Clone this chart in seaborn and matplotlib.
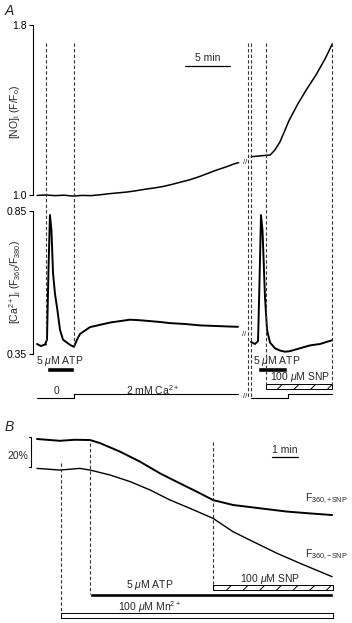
import matplotlib
matplotlib.use("Agg")
import matplotlib.pyplot as plt
import seaborn as sns
import pandas as pd

# ---------------- data ----------------
# Panel A, [NO]i (F/F0) vs time (min); two recording segments separated by a break
no_t_left = [0.0, 1.0, 2.0, 3.0, 4.0, 5.0, 6.0, 7.0, 8.0, 9.0, 10.0, 11.0, 12.0,
             13.0, 14.0, 15.0, 16.0, 17.0, 18.0, 19.0, 20.0, 21.0, 22.0, 22.4]
no_v_left = [0.998, 1.000, 0.997, 0.999, 0.995, 0.998, 0.997, 1.001, 1.006, 1.010,
             1.014, 1.020, 1.027, 1.033, 1.040, 1.050, 1.061, 1.072, 1.086, 1.102,
             1.118, 1.132, 1.148, 1.152]
no_t_right = [23.8, 25.0, 25.9, 26.4, 27.0, 28.0, 29.0, 30.0, 31.0, 32.0, 32.8]
no_v_right = [1.180, 1.185, 1.188, 1.210, 1.250, 1.350, 1.430, 1.500, 1.565, 1.640, 1.710]

# Panel A, [Ca2+]i (F360/F380) vs time (min)
ca_t_left = [0.0, 0.44, 0.89, 1.11, 1.28, 1.44, 1.61, 1.78, 2.0, 2.22, 2.56, 2.89,
             3.33, 3.67, 4.11, 4.44, 4.78, 5.33, 5.89, 7.0, 8.11, 9.22, 10.33,
             11.44, 12.56, 13.67, 14.78, 16.44, 18.11, 19.78, 21.44, 22.33]
ca_v_left = [0.385, 0.378, 0.383, 0.400, 0.650, 0.836, 0.780, 0.633, 0.560, 0.514,
             0.434, 0.400, 0.390, 0.382, 0.375, 0.400, 0.420, 0.432, 0.444, 0.452,
             0.460, 0.465, 0.470, 0.468, 0.465, 0.462, 0.458, 0.455, 0.450, 0.448,
             0.446, 0.445]
ca_t_right = [23.78, 24.22, 24.56, 24.72, 24.89, 25.06, 25.33, 25.56, 25.89, 26.44,
              27.0, 27.56, 28.11, 29.22, 30.33, 31.44, 32.78]
ca_v_right = [0.392, 0.385, 0.395, 0.600, 0.836, 0.780, 0.550, 0.434, 0.390, 0.370,
              0.362, 0.358, 0.360, 0.370, 0.380, 0.385, 0.398]

# Panel A protocol (min)
a_dashed = [1.0, 4.1, 23.45, 23.8, 25.45, 32.8]
a_atp = [(1.1, 4.1), (24.6, 27.8)]
a_snp = (25.45, 32.8)
a_sol_left_t = [0.0, 4.1, 22.3]
a_sol_right_t = [23.8, 27.9, 32.8]
a_sol_level = [0, 2, 2]          # mM Ca2+

# Panel B, F360 (%) vs time (min)
b_t_plus = [0.0, 0.885, 1.46, 2.04, 2.42, 3.19, 3.96, 4.73, 5.5, 6.27, 6.77, 7.54,
            8.58, 9.62, 10.5, 11.35]
b_v_plus = [100.0, 98.8, 99.5, 99.3, 97.3, 91.6, 84.9, 77.1, 70.4, 63.8, 59.3, 56.0,
            53.8, 51.6, 50.4, 49.3]
b_t_minus = [0.0, 0.885, 1.65, 2.04, 2.81, 3.58, 4.35, 5.12, 5.88, 6.77, 7.54, 8.31,
             9.23, 10.12, 10.88, 11.35]
b_v_minus = [80.4, 79.3, 80.4, 79.3, 76.0, 71.6, 66.0, 59.3, 53.8, 47.1, 38.2, 31.6,
             23.8, 17.1, 11.6, 8.2]
b_mn = (0.92, 11.38)
b_atp = (2.04, 11.38)
b_snp = (6.77, 11.38)
b_dashed = [0.92, 2.04, 6.77]

# ---------------- style ----------------
sns.set_theme(style="white")
plt.rcParams["font.family"] = ["Liberation Sans", "DejaVu Sans"]
plt.rcParams["mathtext.fontset"] = "custom"
plt.rcParams["mathtext.rm"] = "Liberation Sans"
plt.rcParams["mathtext.it"] = "Liberation Sans:italic"
plt.rcParams["mathtext.bf"] = "Liberation Sans:bold"
plt.rcParams["hatch.linewidth"] = 0.7

W, H = 352, 623
fig = plt.figure(figsize=(W / 100, H / 100), dpi=100)

def tA(px):
    return (px - 37) / 9.0

def tB(px):
    return (px - 37) / 26.0

def rect(l, t, r, b):
    return [l / W, 1 - b / H, (r - l) / W, (b - t) / H]

FS = 7.5
LC = "black"
DASH = dict(color="0.2", lw=0.8, linestyle=(0, (3, 2)))

def trace(ax, t, v, lw=1.0):
    df = pd.DataFrame({"t": t, "v": v})
    sns.lineplot(data=df, x="t", y="v", ax=ax, color=LC, lw=lw,
                 estimator=None, sort=False, clip_on=False)
    ax.set_xlabel("")
    ax.set_ylabel("")

# ---- Panel A: NO axis ----
ax_no = fig.add_axes(rect(33, 25, 352, 195))
trace(ax_no, no_t_left, no_v_left, lw=1.1)
trace(ax_no, no_t_right, no_v_right, lw=1.1)
ax_no.set_xlim(tA(33), tA(352))
ax_no.set_ylim(1.0, 1.8)

# ---- Panel A: Ca axis ----
ax_ca = fig.add_axes(rect(33, 211, 352, 354))
trace(ax_ca, ca_t_left, ca_v_left, lw=1.4)
trace(ax_ca, ca_t_right, ca_v_right, lw=1.4)
ax_ca.set_xlim(tA(33), tA(352))
ax_ca.set_ylim(0.35, 0.85)

for ax, ticks, labels in [(ax_no, [1.0, 1.8], ["1.0", "1.8"]),
                          (ax_ca, [0.35, 0.85], ["0.35", "0.85"])]:
    ax.patch.set_alpha(0)
    for s in ["top", "right", "bottom"]:
        ax.spines[s].set_visible(False)
    ax.spines["left"].set_color("black")
    ax.spines["left"].set_linewidth(0.8)
    ax.set_xticks([])
    ax.set_yticks(ticks)
    ax.set_yticklabels(labels, fontsize=FS)
    ax.tick_params(axis="y", direction="out", length=3, width=0.8, pad=1.5,
                   left=True, colors="black")

# ---- Panel B traces ----
ax_b = fig.add_axes(rect(0, 430, 352, 590))
trace(ax_b, b_t_plus, b_v_plus, lw=1.4)
trace(ax_b, b_t_minus, b_v_minus, lw=1.0)
ax_b.set_xlim(tB(0), tB(352))
ax_b.set_ylim(100 - (590 - 439) / 1.5, 100 - (430 - 439) / 1.5)
ax_b.axis("off")
# 20% scale bracket
ax_b.plot([tB(28.5), tB(31), tB(31), tB(28.5)], [101.3, 101.3, 81.3, 81.3],
          color="black", lw=0.8)

# ---- overlay for panel A annotations (y in pixel rows) ----
ovA = fig.add_axes([0, 0, 1, 1])
ovA.set_xlim(tA(0), tA(W))
ovA.set_ylim(H, 0)
ovA.axis("off")
ovA.patch.set_alpha(0)

a_dash_bottom = [345, 346, 398, 398, 385, 385]
for x, yb in zip(a_dashed, a_dash_bottom):
    ovA.plot([x, x], [43, yb], **DASH)

ovA.text(tA(5), 11, "A", fontsize=10, style="italic", ha="left", va="center")
ovA.text(tA(15), 112, r"[NO]$_{\rm i}$ (F/F$_{\rm o}$)", fontsize=FS,
         rotation=90, ha="center", va="center")
ovA.text(tA(15), 282, r"[Ca$^{2+}$]$_{\rm i}$ (F$_{360}$/F$_{380}$)", fontsize=FS,
         rotation=90, ha="center", va="center")

# 5 min scale bar
ovA.plot([tA(185), tA(185) + 5], [66, 66], color="black", lw=0.9)
ovA.text(tA(185) + 2.5, 63, "5 min", fontsize=FS, ha="center", va="bottom")

# break marks
for (xp, yp) in [(245, 162), (244, 334), (245, 397)]:
    ovA.text(tA(xp), yp, "//", fontsize=5.5, ha="center", va="center")

# ATP labels and bars
ovA.text(tA(60), 361, r"5 $\mu$M ATP", fontsize=FS, ha="center", va="center")
ovA.text(tA(277), 361, r"5 $\mu$M ATP", fontsize=FS, ha="center", va="center")
ovA.broken_barh([(a, b - a) for a, b in a_atp], (367, 5), facecolors="black")

# SNP label and hatched bar
ovA.text(tA(300), 377, r"100 $\mu$M SNP", fontsize=FS, ha="center", va="center")
ovA.broken_barh([(a_snp[0], a_snp[1] - a_snp[0])], (384, 4.5),
                facecolors="white", edgecolors="black", hatch="//", linewidth=0.7)

# solution (Ca) step lines
def sol_px(levels):
    return [398 - 2 * l for l in levels]

for ts in [a_sol_left_t, a_sol_right_t]:
    ovA.step(ts, sol_px(a_sol_level), where="post", color="black", lw=0.8)
ovA.text(tA(57), 391, "0", fontsize=FS, ha="center", va="center")
ovA.text(tA(153), 390, r"2 mM Ca$^{2+}$", fontsize=FS, ha="center", va="center")

# ---- overlay for panel B annotations ----
ovB = fig.add_axes([0, 0, 1, 1])
ovB.set_xlim(tB(0), tB(W))
ovB.set_ylim(H, 0)
ovB.axis("off")
ovB.patch.set_alpha(0)

ovB.text(tB(5), 427, "B", fontsize=10, style="italic", ha="left", va="center")
ovB.text(tB(28), 456, "20%", fontsize=FS, ha="right", va="center")

for x, yt, yb in zip(b_dashed, [463, 443, 442], [614, 594, 586]):
    ovB.plot([x, x], [yt, yb], **DASH)

ovB.plot([tB(272), tB(272) + 1], [457, 457], color="black", lw=0.9)
ovB.text(tB(272) + 0.5, 455, "1 min", fontsize=FS, ha="center", va="bottom")

ovB.text(tB(305), 499, r"F$_{360,\mathrm{+SNP}}$", fontsize=FS, ha="left", va="center")
ovB.text(tB(305), 555, r"F$_{360,\mathrm{-SNP}}$", fontsize=FS, ha="left", va="center")

ovB.text(tB(270), 579, r"100 $\mu$M SNP", fontsize=FS, ha="center", va="center")
ovB.broken_barh([(b_snp[0], b_snp[1] - b_snp[0])], (585, 4.5),
                facecolors="white", edgecolors="black", hatch="//", linewidth=0.7)
ovB.text(tB(150), 585, r"5 $\mu$M ATP", fontsize=FS, ha="center", va="center")
ovB.broken_barh([(b_atp[0], b_atp[1] - b_atp[0])], (593, 4), facecolors="black")
ovB.text(tB(150), 607, r"100 $\mu$M Mn$^{2+}$", fontsize=FS, ha="center", va="center")
ovB.broken_barh([(b_mn[0], b_mn[1] - b_mn[0])], (613, 4.5),
                facecolors="white", edgecolors="black", linewidth=0.7)

fig.savefig("out.png", dpi=100)
